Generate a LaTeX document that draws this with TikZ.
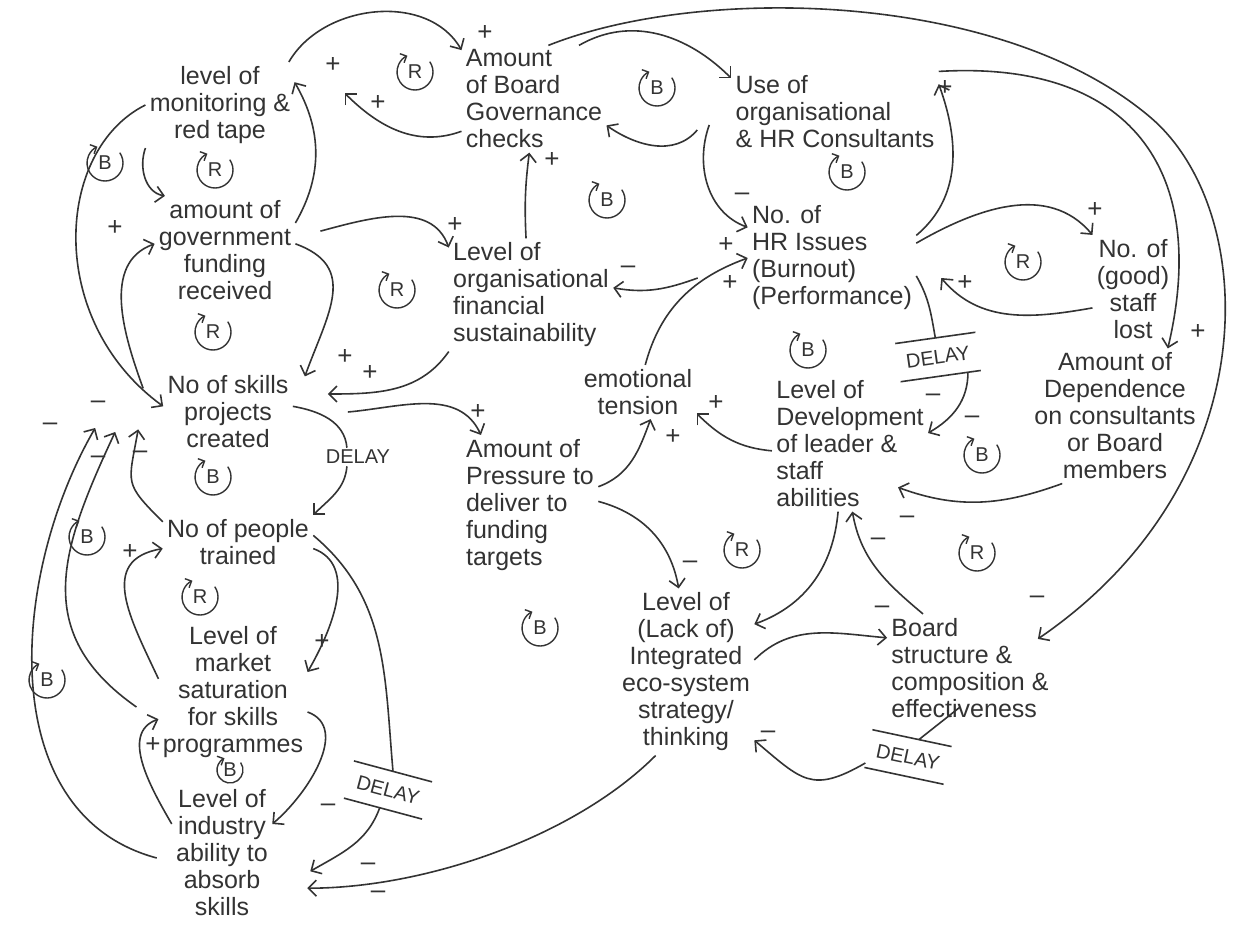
\documentclass[tikz,border=0pt]{standalone}
\usepackage{fontspec}
\setmainfont{Liberation Sans}
\usetikzlibrary{arrows.meta}
\tikzset{
  var/.style={align=center,font=\fontsize{12.5}{13.5}\selectfont,text=black!80,inner sep=2pt},
  lnk/.style={draw=black!80,line width=0.8pt},
  arr/.style={lnk,-{Straight Barb[length=4pt,width=8pt]}},
  sgn/.style={font=\fontsize{13}{13}\selectfont,text=black!80,inner sep=0pt},
  dly/.style={font=\fontsize{10}{10}\selectfont,text=black!80,inner sep=1pt},
  dlyb/.style={dly,inner xsep=4pt,inner ysep=6pt,
    append after command={(\tikzlastnode.north west) edge[lnk] (\tikzlastnode.north east)
      (\tikzlastnode.south west) edge[lnk] (\tikzlastnode.south east)}},
  lp/.style={font=\fontsize{10}{10}\selectfont,text=black!80,inner sep=0pt},
  lparr/.style={draw=black!80,line width=0.7pt,-{Straight Barb[length=2.5pt,width=5pt]}}
}
% loop marker: name, position, letter
\newcommand{\fbloop}[4][9pt]{%
  \node[lp] (#2) at (#3) {#4};
  \draw[lparr] (#2.center) ++(35:#1) arc[start angle=35,end angle=-245,radius=#1];}

\begin{document}
\begin{tikzpicture}[x=0.5pt,y=-0.5pt]
  \path[use as bounding box,fill=white] (0,0) rectangle (1233,926);

  % variables
  \node[var] (mon) at (220,105) {level of\\monitoring \&\\red tape};
  \node[var] (fund) at (225,250) {amount of\\government\\funding\\received};
  \node[var] (proj) at (228,412) {No of skills\\projects\\created};
  \node[var] (ppl) at (238,542) {No of people\\trained};
  \node[var] (mkt) at (233,692) {Level of\\market\\saturation\\for skills\\programmes};
  \node[var] (ind) at (222,853) {Level of\\industry\\ability to\\absorb\\skills};
  \node[var,align=left] (chk) at (534,99) {Amount\\of Board\\Governance\\checks};
  \node[var,align=left] (cons) at (835,112) {Use of\\organisational\\\& HR Consultants};
  \node[var,align=left] (fin) at (531,295) {Level of\\organisational\\financial\\sustainability};
  \node[var,align=left] (hr) at (832,258) {No. of\\HR Issues\\(Burnout)\\(Performance)};
  \node[var] (lost) at (1133,289) {No. of\\(good)\\staff\\lost};
  \node[var] (dep) at (1115,416) {Amount of\\Dependence\\on consultants\\or Board\\members};
  \node[var] (emo) at (638,392) {emotional\\tension};
  \node[var,align=left] (dev) at (850,444) {Level of\\Development\\of leader \&\\staff\\abilities};
  \node[var,align=left] (press) at (530,505) {Amount of\\Pressure to\\deliver to\\funding\\targets};
  \node[var] (integ) at (686,672) {Level of\\(Lack of)\\Integrated\\eco-system\\strategy/\\thinking};
  \node[var,align=left] (bstr) at (970,668) {Board\\structure \&\\composition \&\\effectiveness};

  % delays
  \node[dly] (d1) at (358,457) {DELAY};
  \node[dlyb,rotate=8] (d2) at (938,357) {DELAY};
  \node[dlyb,rotate=-15] (d3) at (388,790) {DELAY};
  \node[dlyb,rotate=-12] (d4) at (908,757) {DELAY};

  % links, left column
  \draw[arr] (fund.21) to[out=60,in=-60] (mon.17);
  \draw[arr] (chk.204) to[out=200,in=-45] ([shift={(50,-12)}]mon.east);
  \draw[arr] (mon.32) to[out=60,in=120] (chk.146);
  \draw[arr] (mon.west) .. controls (55,150) and (45,320) .. (proj.175);
  \draw[arr] (mon.south west) to[out=250,in=170] (fund.138);
  \draw[arr] ([shift={(-20,0)}]proj.160) to[out=110,in=200] (fund.175);
  \draw[arr] (fund.5) to[out=-20,in=70,looseness=1.3] ([shift={(12,5)}]proj.north east);
  \draw[arr] ([shift={(25,0)}]fund.15) to[out=15,in=110] (fin.150);
  \draw[arr] (fin.south west) to[out=235,in=0] ([shift={(35,-18)}]proj.east);
  \draw[arr] (fin.95) to[bend left=5] (chk.265);
  \draw[arr] (ppl.165) to[out=135,in=-100,looseness=1.5] ([shift={(-25,0)}]proj.195);
  \draw[arr] ([shift={(-22,15)}]mkt.west) to[out=145,in=-115,looseness=1.2] ([shift={(-48,20)}]proj.west);
  \draw[arr] ([shift={(-15,5)}]ind.west) to[out=165,in=-120] ([shift={(-68,16)}]proj.west);
  \draw[arr] (mkt.170) to[out=115,in=190,looseness=1.3] (ppl.185);
  \draw[arr] (ppl.-5) to[out=-20,in=60] (mkt.15);
  \draw[arr] (ind.150) to[out=120,in=200] (mkt.200);
  \draw[arr] (mkt.-15) to[out=-20,in=40] (ind.30);
  \draw[lnk] (proj.5) to[out=-10,in=95] (d1.140);
  \draw[arr] (d1.220) to[out=-95,in=45] (ppl.north east);
  \draw[lnk] (ppl.5) to[out=-40,in=95] (d3.north);
  \draw[arr] (d3.-100) to[out=-110,in=30] ([shift={(38,0)}]ind.-20);
  \draw[arr] (integ.-110) to[out=-135,in=0,looseness=0.8] ([shift={(35,0)}]ind.-35);

  % links, centre and right
  \draw[arr] (chk.50) to[out=30,in=135] (cons.162);
  \draw[arr] ([shift={(-34,18)}]cons.west) to[out=230,in=-35] (chk.-20);
  \draw[arr] ([shift={(-22,13)}]cons.west) to[out=250,in=160] (hr.160);
  \draw[arr] (hr.15) to[out=40,in=-70] (cons.15);
  \draw[arr] (cons.north east) .. controls (1130,60) and (1210,170) .. (dep.52);
  \draw[arr] (chk.75) .. controls (700,-15) and (1000,-10) .. (1150,117)
    .. controls (1260,210) and (1270,480) .. ([shift={(-15,25)}]bstr.north east);
  \draw[arr] (hr.10) to[out=30,in=130] (lost.north west);
  \draw[arr] (lost.205) to[out=190,in=-50] ([shift={(25,20)}]hr.east);
  \draw[lnk] (hr.-12) to[out=-60,in=100] (d2.north);
  \draw[arr] (d2.-35) to[out=-90,in=30] (dev.8);
  \draw[arr] (dep.232) to[out=200,in=-20] ([shift={(-30,15)}]dev.-20);
  \draw[arr] ([shift={(-50,20)}]hr.west) to[out=200,in=-10] (fin.5);
  \draw[arr] (emo.75) to[out=75,in=200] (hr.west);
  \draw[arr] (press.15) to[out=20,in=-110] (emo.-65);
  \draw[arr] (dev.185) to[out=175,in=-45] (emo.-20);
  \draw[arr] ([shift={(55,0)}]proj.east) to[out=5,in=115] (press.125);
  \draw[arr] (press.3) to[out=-15,in=100] (integ.95);
  \draw[arr] (dev.-100) to[out=-95,in=20] (integ.35);
  \draw[arr] (bstr.131) to[out=140,in=-80] (dev.-88);
  \draw[arr] (integ.10) to[out=45,in=175] (bstr.160);
  \draw[lnk] ([shift={(-10,-15)}]bstr.south) -- (d4.70);
  \draw[arr] (d4.200) to[out=210,in=-40,looseness=1.4] (integ.-45);

  % polarities
  \node[sgn] (s1) at (333,65) {+};
  \node[sgn] (s2) at (378,103) {+};
  \node[sgn] (s3) at (485,33) {+};
  \node[sgn] (s4) at (98,405) {–};
  \node[sgn] (s5) at (115,228) {+};
  \node[sgn] (s6) at (345,357) {+};
  \node[sgn] (s7) at (455,225) {+};
  \node[sgn] (s8) at (370,373) {+};
  \node[sgn] (s9) at (552,160) {+};
  \node[sgn] (s10) at (742,197) {–};
  \node[sgn] (s11) at (945,88) {+};
  \node[sgn] (s12) at (1198,332) {+};
  \node[sgn] (s13) at (1037,600) {–};
  \node[sgn] (s14) at (1095,210) {+};
  \node[sgn] (s15) at (965,283) {+};
  \node[sgn] (s16) at (933,398) {–};
  \node[sgn] (s17) at (972,420) {–};
  \node[sgn] (s18) at (907,520) {–};
  \node[sgn] (s19) at (628,270) {–};
  \node[sgn] (s20) at (726,245) {+};
  \node[sgn] (s21) at (730,283) {+};
  \node[sgn] (s22) at (673,437) {+};
  \node[sgn] (s23) at (716,403) {+};
  \node[sgn] (s24) at (478,412) {+};
  \node[sgn] (s25) at (690,565) {–};
  \node[sgn] (s26) at (878,542) {–};
  \node[sgn] (s27) at (882,610) {–};
  \node[sgn] (s28) at (768,735) {–};
  \node[sgn] (s29) at (140,455) {–};
  \node[sgn] (s30) at (98,460) {–};
  \node[sgn] (s31) at (50,427) {–};
  \node[sgn] (s32) at (130,552) {+};
  \node[sgn] (s33) at (322,642) {+};
  \node[sgn] (s34) at (153,745) {+};
  \node[sgn] (s35) at (328,808) {–};
  \node[sgn] (s36) at (368,867) {–};
  \node[sgn] (s37) at (378,895) {–};

  % loops
  \fbloop{l1}{415,72}{R}
  \fbloop{l2}{657,88}{B}
  \fbloop{l3}{105,163}{B}
  \fbloop{l4}{215,170}{R}
  \fbloop{l5}{397,290}{R}
  \fbloop{l6}{213,332}{R}
  \fbloop{l7}{607,200}{B}
  \fbloop{l8}{847,172}{B}
  \fbloop{l9}{1023,262}{R}
  \fbloop{l10}{808,350}{B}
  \fbloop{l11}{213,477}{B}
  \fbloop{l12}{87,537}{B}
  \fbloop{l13}{200,597}{R}
  \fbloop[6.5pt]{l14}{230,770}{B}
  \fbloop{l15}{47,680}{B}
  \fbloop{l16}{540,628}{B}
  \fbloop{l17}{742,550}{R}
  \fbloop{l18}{982,455}{B}
  \fbloop{l19}{977,553}{R}
\end{tikzpicture}
\end{document}
